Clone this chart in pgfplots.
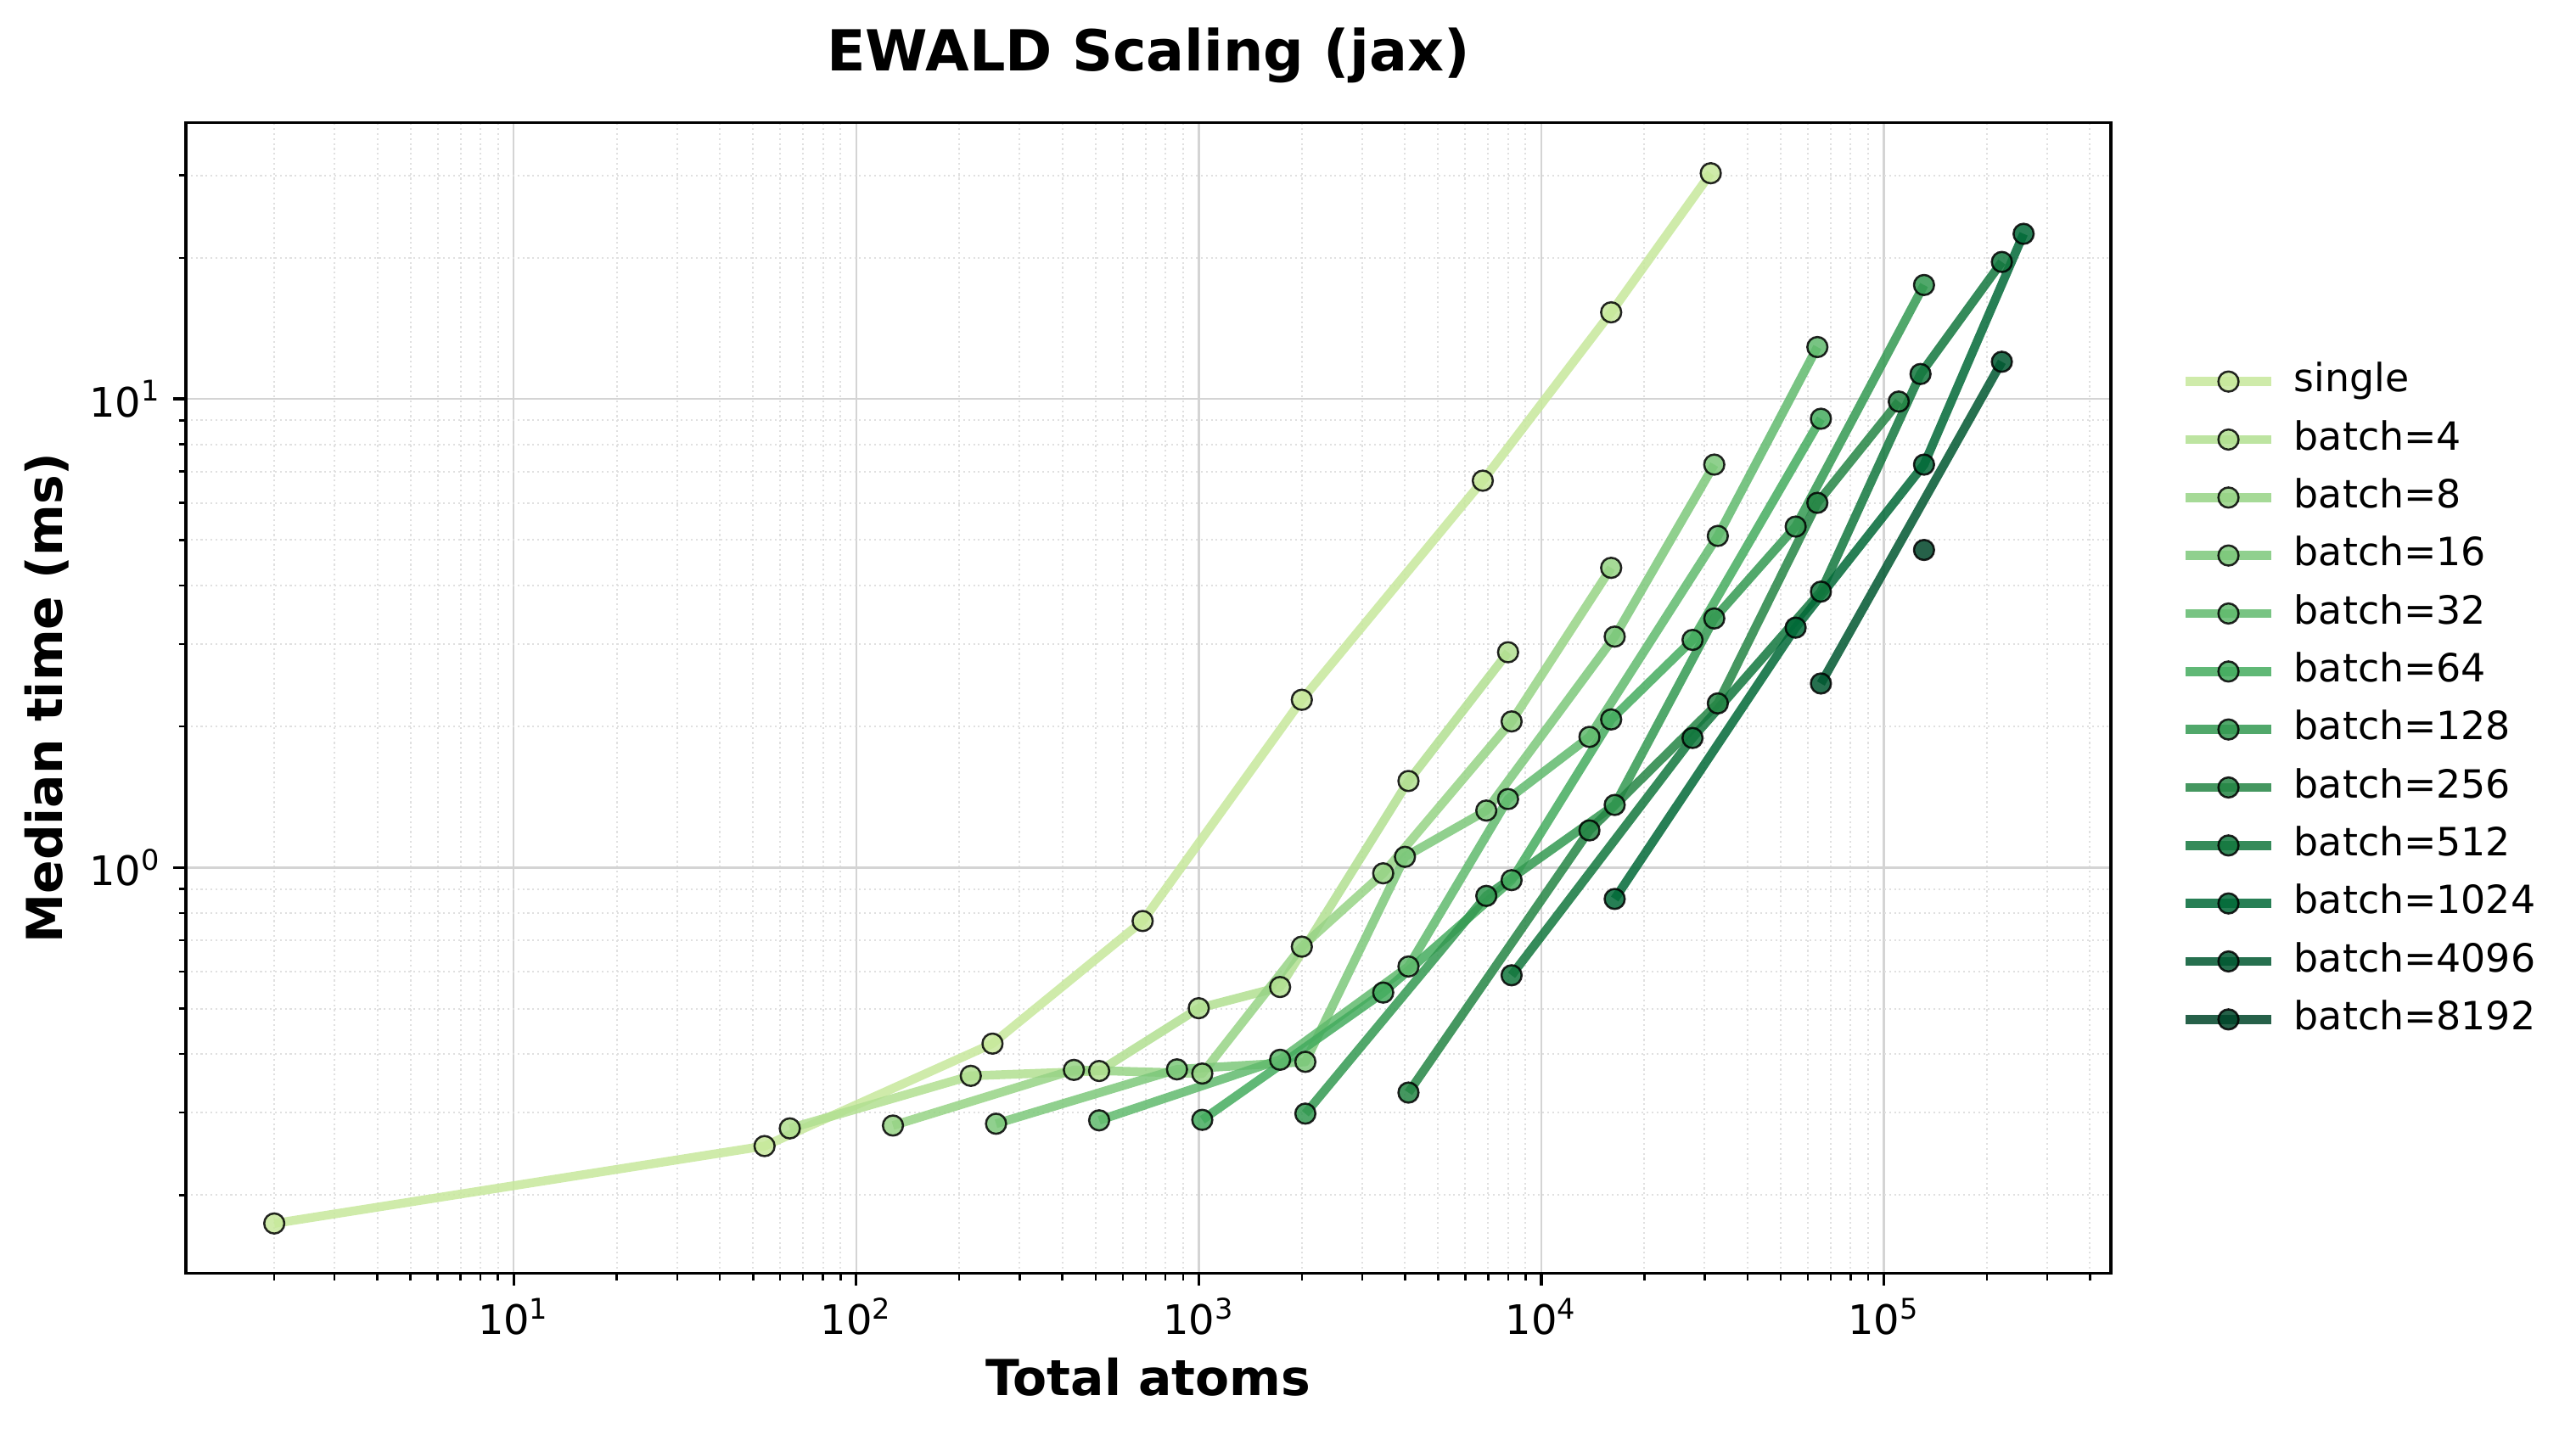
\documentclass[border=0pt]{standalone}
\usepackage{fontspec}
\setmainfont{DejaVu Sans}
\usepackage{pgfplots}
\pgfplotsset{compat=1.18}
\definecolor{c0}{RGB}{199,232,155}
\definecolor{c1}{RGB}{177,223,144}
\definecolor{c2}{RGB}{151,211,133}
\definecolor{c3}{RGB}{124,200,122}
\definecolor{c4}{RGB}{96,186,109}
\definecolor{c5}{RGB}{68,172,94}
\definecolor{c6}{RGB}{51,153,81}
\definecolor{c7}{RGB}{36,133,68}
\definecolor{c8}{RGB}{18,119,61}
\definecolor{c9}{RGB}{1,105,55}
\definecolor{c10}{RGB}{0,87,48}
\definecolor{c11}{RGB}{0,69,41}
\pgfplotsset{
  ser/.style={color=#1, line width=2.5pt, line join=round, opacity=0.85,
    mark=*, mark size=2.85pt, mark options={solid, fill=#1, draw=black, line width=0.6pt}},
}
\begin{document}
\begin{tikzpicture}
\begin{axis}[
  scale only axis, width=544.32pt, height=325.54pt,
  xmode=log, ymode=log,
  xmin=1.104, xmax=460300, ymin=0.1361, ymax=38.9,
  axis line style={line width=0.8pt},
  tick align=outside, xtick pos=bottom, ytick pos=left,
  major tick length=3.5pt, minor tick length=2pt,
  every tick/.style={black, line width=0.8pt},
  every minor tick/.style={black, line width=0.6pt},
  xtick={10,100,1000,10000,100000},
  xticklabels={10\textsuperscript{1},10\textsuperscript{2},10\textsuperscript{3},10\textsuperscript{4},10\textsuperscript{5}},
  ytick={1,10},
  yticklabels={10\textsuperscript{0},10\textsuperscript{1}},
  minor xtick={2,3,4,5,6,7,8,9,20,30,40,50,60,70,80,90,200,300,400,500,600,700,800,900,2000,3000,4000,5000,6000,7000,8000,9000,20000,30000,40000,50000,60000,70000,80000,90000,200000,300000,400000},
  minor ytick={0.2,0.3,0.4,0.5,0.6,0.7,0.8,0.9,2,3,4,5,6,7,8,9,20,30},
  tick label style={font=\fontsize{11.5}{13}\selectfont},
  grid=both,
  major grid style={line width=0.6pt, draw=black!17},
  minor grid style={line width=0.5pt, draw=black!12, dash pattern=on 0.5pt off 0.9pt},
  title={EWALD Scaling (jax)},
  title style={font=\fontsize{16}{19}\selectfont\bfseries, at={(axis description cs:0.5,1.0264)}, anchor=base},
  xlabel={Total atoms},
  xlabel style={font=\fontsize{14}{17}\selectfont\bfseries, at={(axis description cs:0.5,-0.10567)}, anchor=base},
  ylabel={Median time (ms)},
  ylabel style={font=\fontsize{14}{17}\selectfont\bfseries, at={(axis description cs:-0.06393,0.5)}, anchor=base},
  legend image code/.code={\draw[mark repeat=2,mark phase=2] plot coordinates {(0pt,0pt)(12.1pt,0pt)(24.2pt,0pt)};},
  legend cell align=left,
  legend style={at={(axis description cs:1.0362,0.4978)}, anchor=west, draw=none, fill=none,
    font=\fontsize{11}{13}\selectfont, row sep=5.4pt, column sep=5.2pt, inner sep=0pt,
    nodes={inner sep=0pt, text height=8.4pt, text depth=2.6pt}},
]
\addplot[ser=c0] coordinates {(2,0.174) (54,0.2545) (250,0.421) (686,0.769) (2000,2.28) (6750,6.69) (16000,15.3) (31250,30.3)};
\addlegendentry{single}
\addplot[ser=c1] coordinates {(64,0.2776) (216,0.3594) (512,0.368) (1000,0.501) (1728,0.556) (4096,1.53) (8000,2.88)};
\addlegendentry{batch=4}
\addplot[ser=c2] coordinates {(128,0.2815) (432,0.370) (1024,0.3635) (2000,0.678) (3456,0.972) (8192,2.05) (16000,4.36)};
\addlegendentry{batch=8}
\addplot[ser=c3] coordinates {(256,0.284) (864,0.371) (2048,0.385) (4000,1.054) (6912,1.323) (16384,3.11) (32000,7.24)};
\addlegendentry{batch=16}
\addplot[ser=c4] coordinates {(512,0.2888) (1728,0.389) (4096,0.615) (8000,1.40) (13824,1.90) (32768,5.10) (64000,12.9)};
\addlegendentry{batch=32}
\addplot[ser=c5] coordinates {(1024,0.2895) (3456,0.541) (8192,0.94) (16000,2.07) (27648,3.06) (65536,9.07)};
\addlegendentry{batch=64}
\addplot[ser=c6] coordinates {(2048,0.2985) (6912,0.87) (16384,1.36) (32000,3.40) (55296,5.34) (131072,17.5)};
\addlegendentry{batch=128}
\addplot[ser=c7] coordinates {(4096,0.331) (13824,1.20) (32768,2.24) (64000,6.0) (110592,9.87)};
\addlegendentry{batch=256}
\addplot[ser=c8] coordinates {(8192,0.589) (27648,1.89) (65536,3.88) (128000,11.3) (221184,19.6)};
\addlegendentry{batch=512}
\addplot[ser=c9] coordinates {(16384,0.857) (55296,3.25) (131072,7.24) (256000,22.5)};
\addlegendentry{batch=1024}
\addplot[ser=c10] coordinates {(65536,2.47) (221184,12.0)};
\addlegendentry{batch=4096}
\addplot[ser=c11] coordinates {(131072,4.76)};
\addlegendentry{batch=8192}
\end{axis}
\pgfresetboundingbox
\path (current axis.south west) ++(-52.56pt,-43.99pt) rectangle ++(728.4pt,404.16pt);
\end{tikzpicture}
\end{document}
